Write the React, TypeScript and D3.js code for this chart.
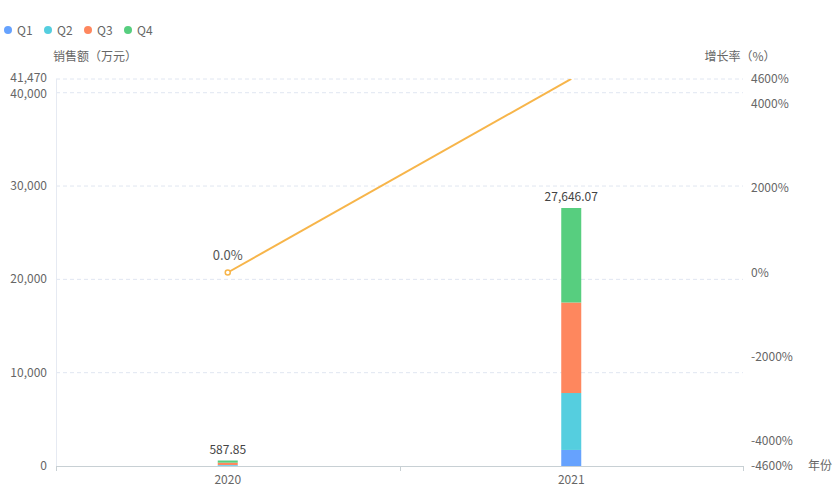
import React from "react";
import * as d3 from "d3";

const years = ["2020", "2021"];
const seriesNames = ["Q1", "Q2", "Q3", "Q4"];
const q1 = [50, 1720];
const q2 = [60, 6100];
const q3 = [250, 9700];
const q4 = [227.85, 10126.07];
const totals = [587.85, 27646.07];
const growth = [0, 4602.93];
const leftTicks = [0, 10000, 20000, 30000, 40000, 41470];
const rightTicks = [-4600, -4000, -2000, 0, 2000, 4000, 4600];
const colors = ["#66A2FE", "#55CEDF", "#FE875E", "#57CE7F"];
const lineColor = "#F7B54A";

const W = 838, H = 488;
const L = 56, R = 743, T = 79, B = 466;
const font = "'Noto Sans CJK SC', 'Noto Sans', sans-serif";
const txt = "#666";

export default function App() {
  const x = d3.scaleBand<string>().domain(years).range([L, R]);
  const yL = d3.scaleLinear().domain([0, 41470]).range([B, T]);
  const yR = d3.scaleLinear().domain([-4600, 4600]).range([B, T]);
  const stackData = years.map((y, i) => ({ year: y, Q1: q1[i], Q2: q2[i], Q3: q3[i], Q4: q4[i] }));
  const stacked = d3.stack<any>().keys(seriesNames)(stackData);
  const barW = 20;
  const cx = (y: string) => (x(y) as number) + x.bandwidth() / 2;
  const lineGen = d3.line<number>().x((_, i) => cx(years[i])).y((d) => yR(d));
  const leftOffset = (t: number) => (t === 41470 ? 3 : t === 40000 ? 5.5 : 4);

  return (
    <svg width={W} height={H} style={{ position: "absolute", left: 0, top: 0, fontFamily: font }}>
      <defs>
        <clipPath id="plot"><rect x={L} y={T} width={R - L} height={B - T} /></clipPath>
      </defs>
      {seriesNames.map((n, i) => (
        <g key={n} transform={`translate(${8 + i * 40},30)`}>
          <circle cx={0} cy={0} r={4} fill={colors[i]} />
          <text x={9} y={4.5} fontSize={12} fill={txt}>{n}</text>
        </g>
      ))}
      <text x={95} y={61} fontSize={12} fill={txt} textAnchor="middle">销售额（万元）</text>
      <text x={740} y={61} fontSize={12} fill={txt} textAnchor="middle">增长率（%）</text>
      <text x={808} y={470} fontSize={12} fill={txt}>年份</text>
      {leftTicks.filter((t) => t > 0).map((t) => (
        <line key={t} x1={L} x2={R} y1={yL(t)} y2={yL(t)} stroke="#E0E6F1" strokeDasharray="4,3" />
      ))}
      <line x1={L + 0.5} x2={L + 0.5} y1={T} y2={B} stroke="#E6EAF2" />
      {leftTicks.map((t) => (
        <text key={t} x={47} y={yL(t) + leftOffset(t)} fontSize={12} fill={txt} textAnchor="end">{d3.format(",")(t)}</text>
      ))}
      {rightTicks.map((t) => (
        <text key={t} x={751} y={yR(t) + 4} fontSize={12} fill={txt}>{t + "%"}</text>
      ))}
      {stacked.map((s, si) => (
        <g key={s.key}>
          {s.map((d, i) => (
            <rect key={i} x={cx(years[i]) - barW / 2} y={yL(d[1])} width={barW} height={Math.max(0, yL(d[0]) - yL(d[1]))} fill={colors[si]} />
          ))}
        </g>
      ))}
      <line x1={L} x2={R} y1={B + 0.5} y2={B + 0.5} stroke="#C8D0D4" />
      {[L, L + x.bandwidth(), R].map((t, i) => (
        <line key={i} x1={Math.round(t) + 0.5} x2={Math.round(t) + 0.5} y1={B} y2={B + 5} stroke="#C8D0D4" />
      ))}
      {years.map((y) => (
        <text key={y} x={cx(y)} y={484} fontSize={12} fill={txt} textAnchor="middle">{y}</text>
      ))}
      {years.map((y, i) => (
        <text key={y} x={cx(y)} y={yL(totals[i]) - 7} fontSize={12} fill="#444" textAnchor="middle">{d3.format(",.2f")(totals[i])}</text>
      ))}
      <g clipPath="url(#plot)">
        <path d={lineGen(growth) || ""} fill="none" stroke={lineColor} strokeWidth={2} />
      </g>
      <circle cx={cx(years[0])} cy={yR(growth[0])} r={2.5} fill="#fff" stroke={lineColor} strokeWidth={1.5} />
      <text x={cx(years[0])} y={yR(growth[0]) - 13} fontSize={13} fill="#555" textAnchor="middle">{growth[0].toFixed(1) + "%"}</text>
    </svg>
  );
}
